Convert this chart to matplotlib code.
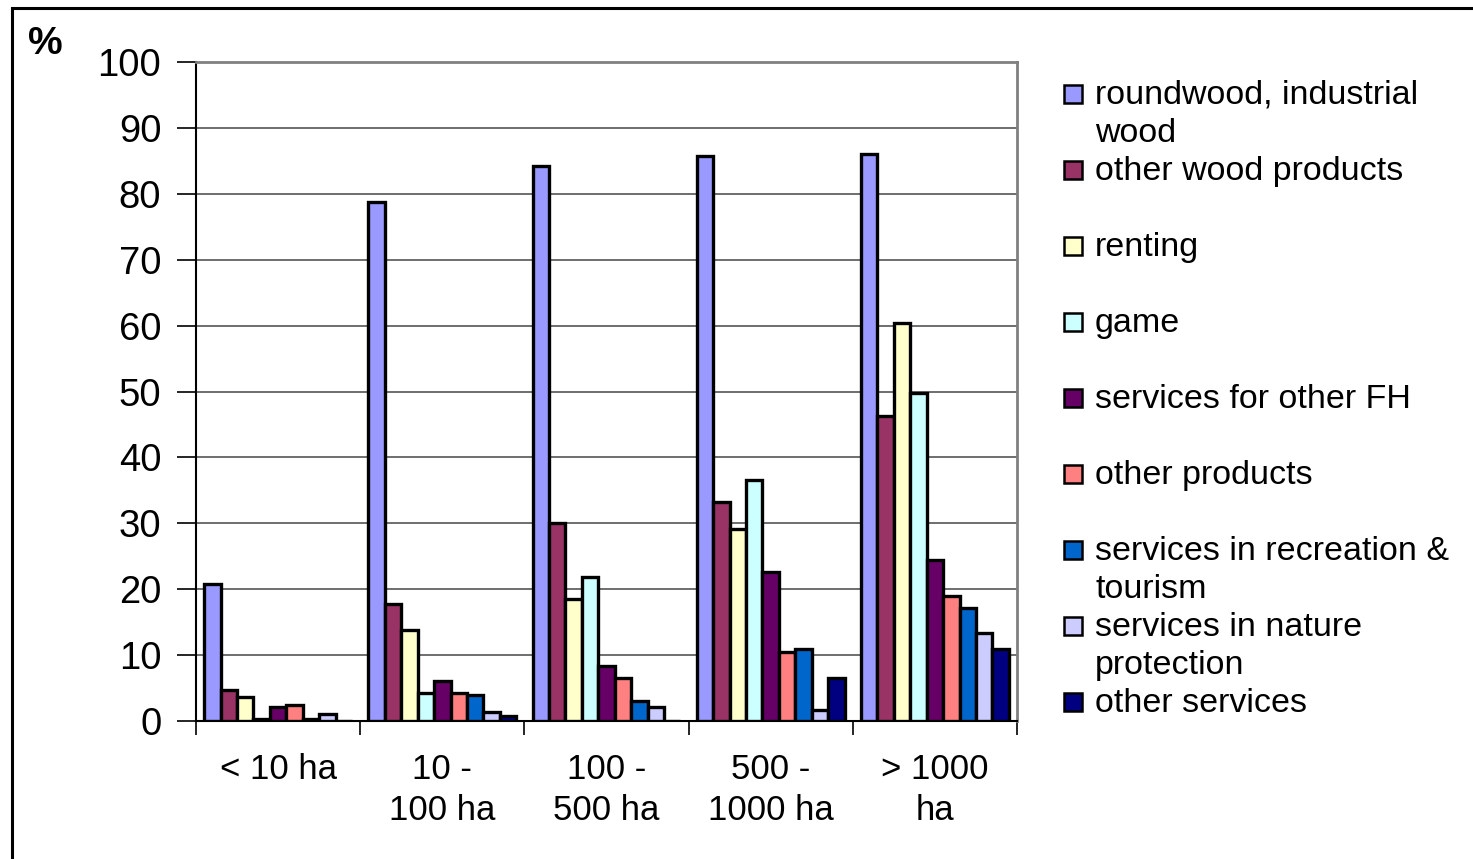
import matplotlib
matplotlib.use("Agg")
import matplotlib.pyplot as plt
from matplotlib.patches import Rectangle
import numpy as np

plt.rcParams['font.family'] = ['Liberation Sans', 'DejaVu Sans']

# Forest holding size classes
size_classes = ["< 10 ha", "10 -\n100 ha", "100 -\n500 ha", "500 -\n1000 ha", "> 1000\nha"]

# Product / service categories
series_names = [
    "roundwood, industrial\nwood",
    "other wood products",
    "renting",
    "game",
    "services for other FH",
    "other products",
    "services in recreation &\ntourism",
    "services in nature\nprotection",
    "other services",
]

# Share of holdings (%) per size class, one list per category
roundwood        = [20.8, 78.8, 84.2, 85.7, 86.0]
other_wood       = [4.7, 17.8, 30.0, 33.2, 46.3]
renting          = [3.6, 13.8, 18.5, 29.1, 60.4]
game             = [0.3, 4.2, 21.8, 36.6, 49.7]
services_fh      = [2.2, 6.1, 8.3, 22.6, 24.4]
other_products   = [2.5, 4.2, 6.5, 10.5, 18.9]
recreation       = [0.3, 3.9, 3.1, 10.9, 17.1]
nature           = [1.0, 1.4, 2.1, 1.7, 13.4]
other_services   = [0.0, 0.7, 0.0, 6.5, 10.9]

series_values = [roundwood, other_wood, renting, game, services_fh,
                 other_products, recreation, nature, other_services]

colors = ["#9999FF", "#993366", "#FFFFCC", "#CCFFFF", "#660066",
          "#FF8080", "#0066CC", "#CCCCFF", "#000080"]

W, H = 1473, 859
fig = plt.figure(figsize=(W / 100, H / 100), dpi=100)
fig.patch.set_facecolor("white")

# Outer frame (open to the right and bottom)
fig.patches.append(Rectangle((12 / W, -0.2), 2.0, (H - 8) / H + 0.2,
                             transform=fig.transFigure, fill=False,
                             edgecolor="black", linewidth=2.2))

ax = fig.add_axes([196 / W, (H - 721) / H, (1017 - 196) / W, (721 - 62) / H])

x = np.arange(len(size_classes))
n = len(series_values)
bw = 1.0 / (n + 1)
for i, (vals, col) in enumerate(zip(series_values, colors)):
    ax.bar(x + (i - (n - 1) / 2) * bw, vals, width=bw, color=col,
           edgecolor="black", linewidth=2.4, zorder=3)

ax.set_xlim(-0.5, len(size_classes) - 0.5)
ax.set_ylim(0, 100)
ax.set_yticks(np.arange(0, 101, 10))
ax.yaxis.grid(True, color="#555555", linewidth=1.2, zorder=0)
ax.tick_params(axis="y", direction="out", length=14, width=1.2,
               labelsize=27.5, pad=11, color="black")

# Category boundary ticks and centred labels
ax.set_xticks(np.arange(-0.5, len(size_classes), 1.0))
ax.set_xticklabels([])
ax.tick_params(axis="x", which="major", direction="out", length=10, width=1.2)
ax.set_xticks(x, minor=True)
ax.set_xticklabels(size_classes, minor=True, fontsize=25, linespacing=1.3,
                   va="top")
ax.tick_params(axis="x", which="minor", length=0, pad=23)

for side in ("top", "right"):
    ax.spines[side].set_color("#808080")
    ax.spines[side].set_linewidth(2.0)
for side in ("left", "bottom"):
    ax.spines[side].set_color("black")
    ax.spines[side].set_linewidth(1.5)

fig.text(28 / W, (H - 44) / H, "%", fontsize=28, fontweight="bold",
         va="center", ha="left")

# Legend drawn as swatches with wrapped labels, one text per line
y0, step, line_gap = 94, 76, 38
for i, (name, col) in enumerate(zip(series_names, colors)):
    yc = y0 + i * step
    fig.patches.append(Rectangle((1064 / W, (H - yc - 9) / H), 18 / W, 18 / H,
                                 transform=fig.transFigure, facecolor=col,
                                 edgecolor="black", linewidth=1.8))
    for j, line in enumerate(name.split("\n")):
        fig.text(1095 / W, (H - (yc + 10 + j * line_gap)) / H, line,
                 fontsize=24.5, va="baseline", ha="left")

fig.savefig("out.png", dpi=100)
